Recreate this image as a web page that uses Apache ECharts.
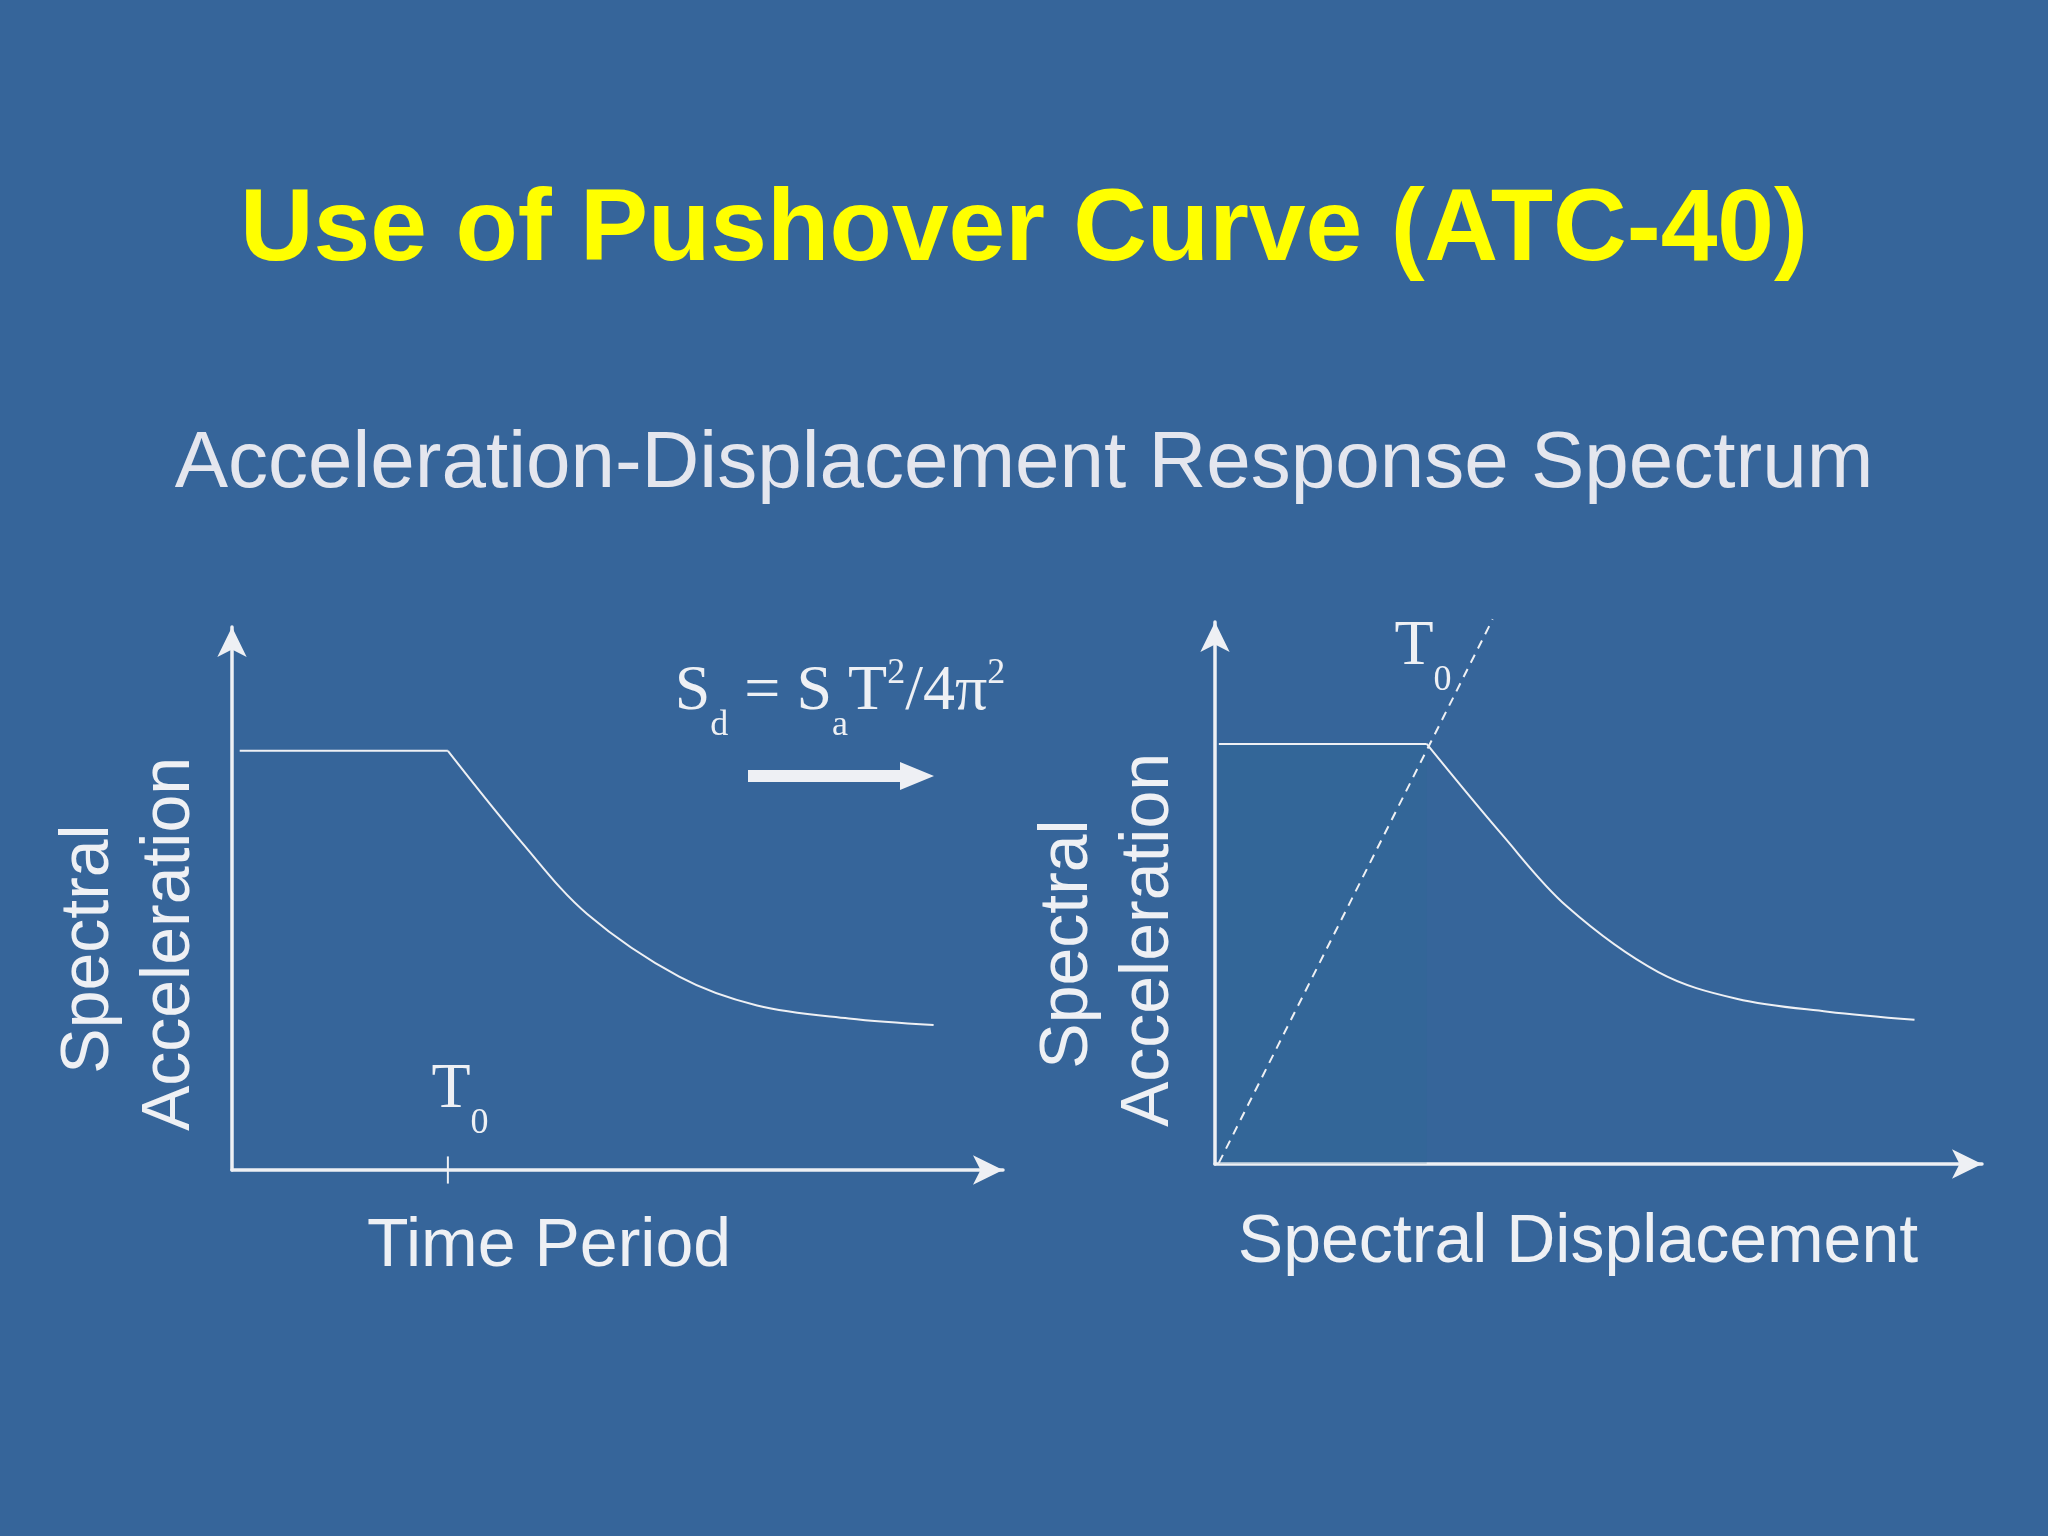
<!DOCTYPE html>
<html>
<head>
<meta charset="utf-8">
<script src="https://cdn.jsdelivr.net/npm/echarts@6/dist/echarts.min.js"></script>
<style>
  html, body { margin: 0; padding: 0; background: #36659a; }
  #main { width: 2048px; height: 1536px; }
</style>
</head>
<body>
<div id="main"></div>
<script>
// spectrum in time period domain (left), axis units 0..100
var periodFlatX = [1, 28];
var periodFlatY = [77.2, 77.2];
var periodX = [28, 37.6, 46.1, 58, 68.1, 80, 91];
var periodY = [77.2, 60.3, 47.1, 35.6, 30.3, 27.9, 26.7];
// spectrum in displacement domain (right)
var dispFlatX = [0.5, 27.6];
var dispFlatY = [77.5, 77.5];
var dispX = [27.6, 37.4, 45.9, 57.8, 68, 79.9, 91.2];
var dispY = [77.5, 60.8, 47.5, 35.4, 30.5, 28.1, 26.6];
// T0 radial line through origin
var radialX = [0.5, 36.2];
var radialY = [0.2, 100.5];
var t0Tick = [28, -2.5, 28, 2.5];

var FG = '#eef0f4';
var chart = echarts.init(document.getElementById('main'));

function zip(xs, ys) { return xs.map(function (x, i) { return [x, ys[i]]; }); }

function axisPair(idx) {
  return {
    gridIndex: idx, type: 'value', min: 0, max: 100,
    splitLine: { show: false }, axisTick: { show: false }, axisLabel: { show: false },
    axisLine: { show: true, symbol: ['none', 'arrow'], symbolSize: [22, 30],
      lineStyle: { color: FG, width: 3.5 } }
  };
}

function line(idx, data, extra) {
  return Object.assign({ type: 'line', xAxisIndex: idx, yAxisIndex: idx, data: data,
    symbol: 'none', lineStyle: { color: FG, width: 2 } }, extra || {});
}

var sub = { fontFamily: 'Liberation Serif', fontSize: 36, fill: FG, verticalAlign: 'bottom', padding: [0, 0, -20, 0] };
var sup = { fontFamily: 'Liberation Serif', fontSize: 36, fill: FG, verticalAlign: 'top', padding: [-4, 0, 0, 0] };
var big = { fontFamily: 'Liberation Serif', fontSize: 64, fill: FG };

var option = {
  backgroundColor: '#36659a',
  animation: false,
  title: [
    { text: 'Use of Pushover Curve (ATC-40)', left: 'center', top: 176,
      textStyle: { color: '#ffff00', fontSize: 102, fontWeight: 'bold', fontFamily: 'Liberation Sans' } },
    { text: 'Acceleration-Displacement Response Spectrum', left: 'center', top: 420,
      textStyle: { color: '#e4e6ee', fontSize: 80, fontWeight: 'normal', fontFamily: 'Liberation Sans' } }
  ],
  grid: [
    { left: 232, top: 627, width: 771, height: 543 },
    { left: 1215, top: 622, width: 767, height: 542 }
  ],
  xAxis: [axisPair(0), axisPair(1)],
  yAxis: [axisPair(0), axisPair(1)],
  series: [
    line(0, zip(periodFlatX, periodFlatY)),
    line(0, zip(periodX, periodY), { smooth: 0.35 }),
    line(0, [[t0Tick[0], t0Tick[1]], [t0Tick[2], t0Tick[3]]], { clip: false }),
    line(1, zip(dispFlatX, dispFlatY), { areaStyle: { color: 'rgba(40,105,150,0.25)' } }),
    line(1, zip(dispX, dispY), { smooth: 0.35 }),
    line(1, zip(radialX, radialY), { clip: false, lineStyle: { color: FG, width: 2, type: [9, 7] } })
  ],
  graphic: [
    { type: 'text', x: 89, y: 949, rotation: Math.PI / 2,
      style: { text: 'Spectral', fill: FG, font: '68px "Liberation Sans"', align: 'center', verticalAlign: 'middle' } },
    { type: 'text', x: 170, y: 944, rotation: Math.PI / 2,
      style: { text: 'Acceleration', fill: FG, font: '68px "Liberation Sans"', align: 'center', verticalAlign: 'middle' } },
    { type: 'text', x: 1068, y: 944, rotation: Math.PI / 2,
      style: { text: 'Spectral', fill: FG, font: '68px "Liberation Sans"', align: 'center', verticalAlign: 'middle' } },
    { type: 'text', x: 1149, y: 940, rotation: Math.PI / 2,
      style: { text: 'Acceleration', fill: FG, font: '68px "Liberation Sans"', align: 'center', verticalAlign: 'middle' } },
    { type: 'text', x: 549, y: 1247,
      style: { text: 'Time Period', fill: FG, font: '68px "Liberation Sans"', align: 'center', verticalAlign: 'middle' } },
    { type: 'text', x: 1578, y: 1243,
      style: { text: 'Spectral Displacement', fill: FG, font: '68px "Liberation Sans"', align: 'center', verticalAlign: 'middle' } },
    { type: 'text', x: 840, y: 692,
      style: { text: '{m|S}{s|d}{m| = S}{s|a}{m|T}{p|2}{m|/4π}{p|2}', align: 'center', verticalAlign: 'middle',
        rich: { m: big, s: sub, p: sup } } },
    { type: 'text', x: 460, y: 1090,
      style: { text: '{m|T}{s|0}', align: 'center', verticalAlign: 'middle', rich: { m: big, s: sub } } },
    { type: 'text', x: 1423, y: 647,
      style: { text: '{m|T}{s|0}', align: 'center', verticalAlign: 'middle', rich: { m: big, s: sub } } },
    { type: 'polygon', shape: { points: [[748, 770], [900, 770], [900, 762], [934, 776], [900, 790], [900, 782], [748, 782]] },
      style: { fill: FG } }
  ]
};
chart.setOption(option);
</script>
</body>
</html>
